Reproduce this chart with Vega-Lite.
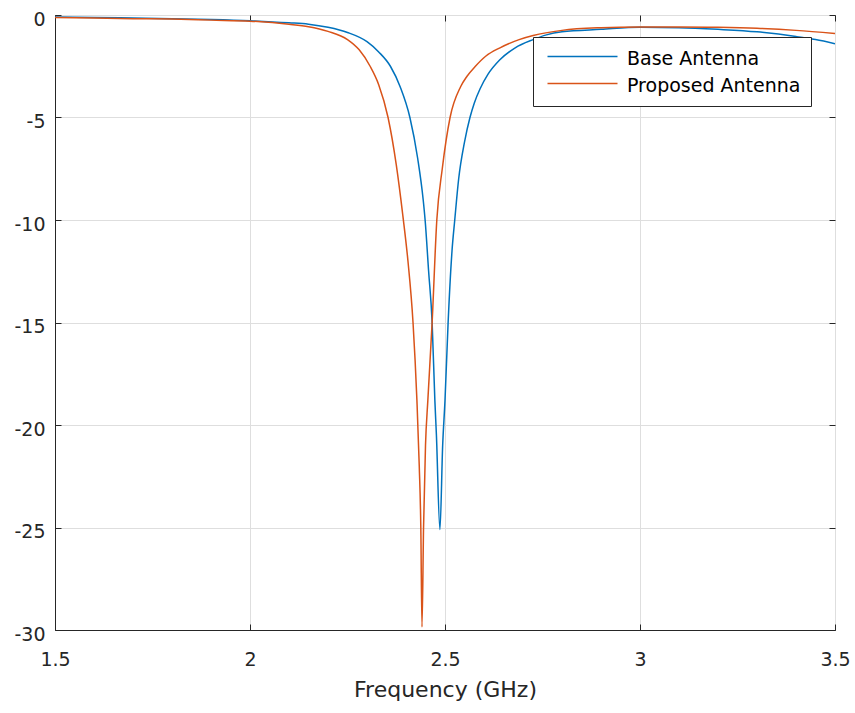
{
  "$schema": "https://vega.github.io/schema/vega-lite/v6.json",
  "autosize": "none",
  "width": 780,
  "height": 615,
  "padding": {"left": 55, "top": 15, "right": 20, "bottom": 83},
  "background": "white",
  "config": {
    "font": "DejaVu Sans",
    "view": {"stroke": "#262626", "strokeWidth": 1},
    "axis": {"labelColor": "#262626", "titleColor": "#262626", "domainColor": "#262626", "tickColor": "#262626", "gridColor": "#dedede", "gridWidth": 1, "labelFontSize": 19, "titleFontSize": 22, "titleFontWeight": "normal"}
  },
  "data": {"values": [
    {"antenna": "Base Antenna", "f": 1.5, "v": -0.1},
    {"antenna": "Base Antenna", "f": 1.6, "v": -0.12},
    {"antenna": "Base Antenna", "f": 1.7, "v": -0.15},
    {"antenna": "Base Antenna", "f": 1.8, "v": -0.18},
    {"antenna": "Base Antenna", "f": 1.9, "v": -0.22},
    {"antenna": "Base Antenna", "f": 2.0, "v": -0.28},
    {"antenna": "Base Antenna", "f": 2.1, "v": -0.38},
    {"antenna": "Base Antenna", "f": 2.15, "v": -0.45},
    {"antenna": "Base Antenna", "f": 2.2, "v": -0.6},
    {"antenna": "Base Antenna", "f": 2.25, "v": -0.85},
    {"antenna": "Base Antenna", "f": 2.3, "v": -1.3},
    {"antenna": "Base Antenna", "f": 2.33, "v": -1.8},
    {"antenna": "Base Antenna", "f": 2.36, "v": -2.5},
    {"antenna": "Base Antenna", "f": 2.385, "v": -3.5},
    {"antenna": "Base Antenna", "f": 2.41, "v": -5.0},
    {"antenna": "Base Antenna", "f": 2.43, "v": -7.0},
    {"antenna": "Base Antenna", "f": 2.444, "v": -9.0},
    {"antenna": "Base Antenna", "f": 2.449, "v": -10.0},
    {"antenna": "Base Antenna", "f": 2.458, "v": -12.5},
    {"antenna": "Base Antenna", "f": 2.467, "v": -15.0},
    {"antenna": "Base Antenna", "f": 2.474, "v": -18.8},
    {"antenna": "Base Antenna", "f": 2.478, "v": -20.5},
    {"antenna": "Base Antenna", "f": 2.487, "v": -25.1},
    {"antenna": "Base Antenna", "f": 2.494, "v": -21.0},
    {"antenna": "Base Antenna", "f": 2.5, "v": -18.8},
    {"antenna": "Base Antenna", "f": 2.508, "v": -15.0},
    {"antenna": "Base Antenna", "f": 2.518, "v": -11.5},
    {"antenna": "Base Antenna", "f": 2.525, "v": -10.0},
    {"antenna": "Base Antenna", "f": 2.535, "v": -8.0},
    {"antenna": "Base Antenna", "f": 2.55, "v": -6.2},
    {"antenna": "Base Antenna", "f": 2.564, "v": -5.0},
    {"antenna": "Base Antenna", "f": 2.575, "v": -4.3},
    {"antenna": "Base Antenna", "f": 2.59, "v": -3.6},
    {"antenna": "Base Antenna", "f": 2.61, "v": -2.9},
    {"antenna": "Base Antenna", "f": 2.64, "v": -2.2},
    {"antenna": "Base Antenna", "f": 2.68, "v": -1.6},
    {"antenna": "Base Antenna", "f": 2.726, "v": -1.2},
    {"antenna": "Base Antenna", "f": 2.76, "v": -0.97},
    {"antenna": "Base Antenna", "f": 2.8, "v": -0.82},
    {"antenna": "Base Antenna", "f": 2.9, "v": -0.7},
    {"antenna": "Base Antenna", "f": 3.0, "v": -0.6},
    {"antenna": "Base Antenna", "f": 3.1, "v": -0.62},
    {"antenna": "Base Antenna", "f": 3.2, "v": -0.7},
    {"antenna": "Base Antenna", "f": 3.3, "v": -0.82},
    {"antenna": "Base Antenna", "f": 3.4, "v": -1.05},
    {"antenna": "Base Antenna", "f": 3.45, "v": -1.2},
    {"antenna": "Base Antenna", "f": 3.5, "v": -1.4},
    {"antenna": "Proposed Antenna", "f": 1.5, "v": -0.12},
    {"antenna": "Proposed Antenna", "f": 1.6, "v": -0.15},
    {"antenna": "Proposed Antenna", "f": 1.7, "v": -0.18},
    {"antenna": "Proposed Antenna", "f": 1.8, "v": -0.2},
    {"antenna": "Proposed Antenna", "f": 1.9, "v": -0.25},
    {"antenna": "Proposed Antenna", "f": 2.0, "v": -0.3},
    {"antenna": "Proposed Antenna", "f": 2.1, "v": -0.45},
    {"antenna": "Proposed Antenna", "f": 2.15, "v": -0.57},
    {"antenna": "Proposed Antenna", "f": 2.2, "v": -0.8},
    {"antenna": "Proposed Antenna", "f": 2.25, "v": -1.2},
    {"antenna": "Proposed Antenna", "f": 2.28, "v": -1.7},
    {"antenna": "Proposed Antenna", "f": 2.308, "v": -2.5},
    {"antenna": "Proposed Antenna", "f": 2.33, "v": -3.4},
    {"antenna": "Proposed Antenna", "f": 2.354, "v": -5.0},
    {"antenna": "Proposed Antenna", "f": 2.375, "v": -7.3},
    {"antenna": "Proposed Antenna", "f": 2.392, "v": -9.8},
    {"antenna": "Proposed Antenna", "f": 2.405, "v": -12.0},
    {"antenna": "Proposed Antenna", "f": 2.418, "v": -15.0},
    {"antenna": "Proposed Antenna", "f": 2.428, "v": -18.8},
    {"antenna": "Proposed Antenna", "f": 2.434, "v": -22.0},
    {"antenna": "Proposed Antenna", "f": 2.438, "v": -25.0},
    {"antenna": "Proposed Antenna", "f": 2.441, "v": -29.85},
    {"antenna": "Proposed Antenna", "f": 2.445, "v": -25.0},
    {"antenna": "Proposed Antenna", "f": 2.45, "v": -21.0},
    {"antenna": "Proposed Antenna", "f": 2.456, "v": -18.8},
    {"antenna": "Proposed Antenna", "f": 2.467, "v": -15.0},
    {"antenna": "Proposed Antenna", "f": 2.479, "v": -10.0},
    {"antenna": "Proposed Antenna", "f": 2.493, "v": -7.5},
    {"antenna": "Proposed Antenna", "f": 2.513, "v": -5.0},
    {"antenna": "Proposed Antenna", "f": 2.54, "v": -3.5},
    {"antenna": "Proposed Antenna", "f": 2.556, "v": -3.0},
    {"antenna": "Proposed Antenna", "f": 2.578, "v": -2.5},
    {"antenna": "Proposed Antenna", "f": 2.605, "v": -2.0},
    {"antenna": "Proposed Antenna", "f": 2.641, "v": -1.6},
    {"antenna": "Proposed Antenna", "f": 2.69, "v": -1.2},
    {"antenna": "Proposed Antenna", "f": 2.726, "v": -1.0},
    {"antenna": "Proposed Antenna", "f": 2.8, "v": -0.75},
    {"antenna": "Proposed Antenna", "f": 2.9, "v": -0.62},
    {"antenna": "Proposed Antenna", "f": 3.0, "v": -0.58},
    {"antenna": "Proposed Antenna", "f": 3.1, "v": -0.58},
    {"antenna": "Proposed Antenna", "f": 3.2, "v": -0.6},
    {"antenna": "Proposed Antenna", "f": 3.3, "v": -0.65},
    {"antenna": "Proposed Antenna", "f": 3.4, "v": -0.75},
    {"antenna": "Proposed Antenna", "f": 3.5, "v": -0.9}
  ]},
  "layer": [
    {
      "mark": {"type": "line", "strokeWidth": 1.5, "interpolate": "monotone", "clip": true},
      "encoding": {
        "x": {"field": "f", "type": "quantitative", "scale": {"domain": [1.5, 3.5], "nice": false, "zero": false},
          "axis": {"title": "Frequency (GHz)", "values": [1.5, 2, 2.5, 3, 3.5], "labelExpr": "toString(datum.value)", "tickSize": -6, "labelPadding": 26, "titlePadding": 10, "labelFlush": false, "grid": true}},
        "y": {"field": "v", "type": "quantitative", "scale": {"domain": [-30, 0], "nice": false, "zero": false},
          "axis": {"title": null, "values": [0, -5, -10, -15, -20, -25, -30], "labelExpr": "toString(datum.value)", "tickSize": -6, "labelPadding": 16, "labelOffset": 4, "labelFlush": false, "grid": true}},
        "color": {"field": "antenna", "type": "nominal",
          "scale": {"domain": ["Base Antenna", "Proposed Antenna"], "range": ["#0072BD", "#D95319"]},
          "legend": {"orient": "none", "legendX": 478, "legendY": 22, "title": null, "symbolType": "stroke", "symbolSize": 100, "symbolStrokeWidth": 1.5, "labelFontSize": 19, "labelLimit": 400, "labelColor": "#000000", "fillColor": "white", "strokeColor": "#262626", "padding": 10, "symbolOffset": 30, "labelOffset": 35, "rowPadding": 5,
            "encode": {"symbols": {"update": {"shape": {"value": "M-35,0H35"}, "size": {"value": 4}}}, "labels": {"update": {"dy": {"value": 2}}}}}}
      }
    },
    {
      "mark": {"type": "line", "strokeOpacity": 0},
      "encoding": {
        "x": {"field": "f", "type": "quantitative", "axis": {"orient": "top", "title": null, "labels": false, "domain": false, "grid": false, "values": [1.5, 2, 2.5, 3, 3.5], "tickSize": -6}},
        "y": {"field": "v", "type": "quantitative", "axis": {"orient": "right", "title": null, "labels": false, "domain": false, "grid": false, "values": [0, -5, -10, -15, -20, -25, -30], "tickSize": -6}},
        "detail": {"field": "antenna"}
      }
    }
  ],
  "resolve": {"axis": {"x": "independent", "y": "independent"}}
}
